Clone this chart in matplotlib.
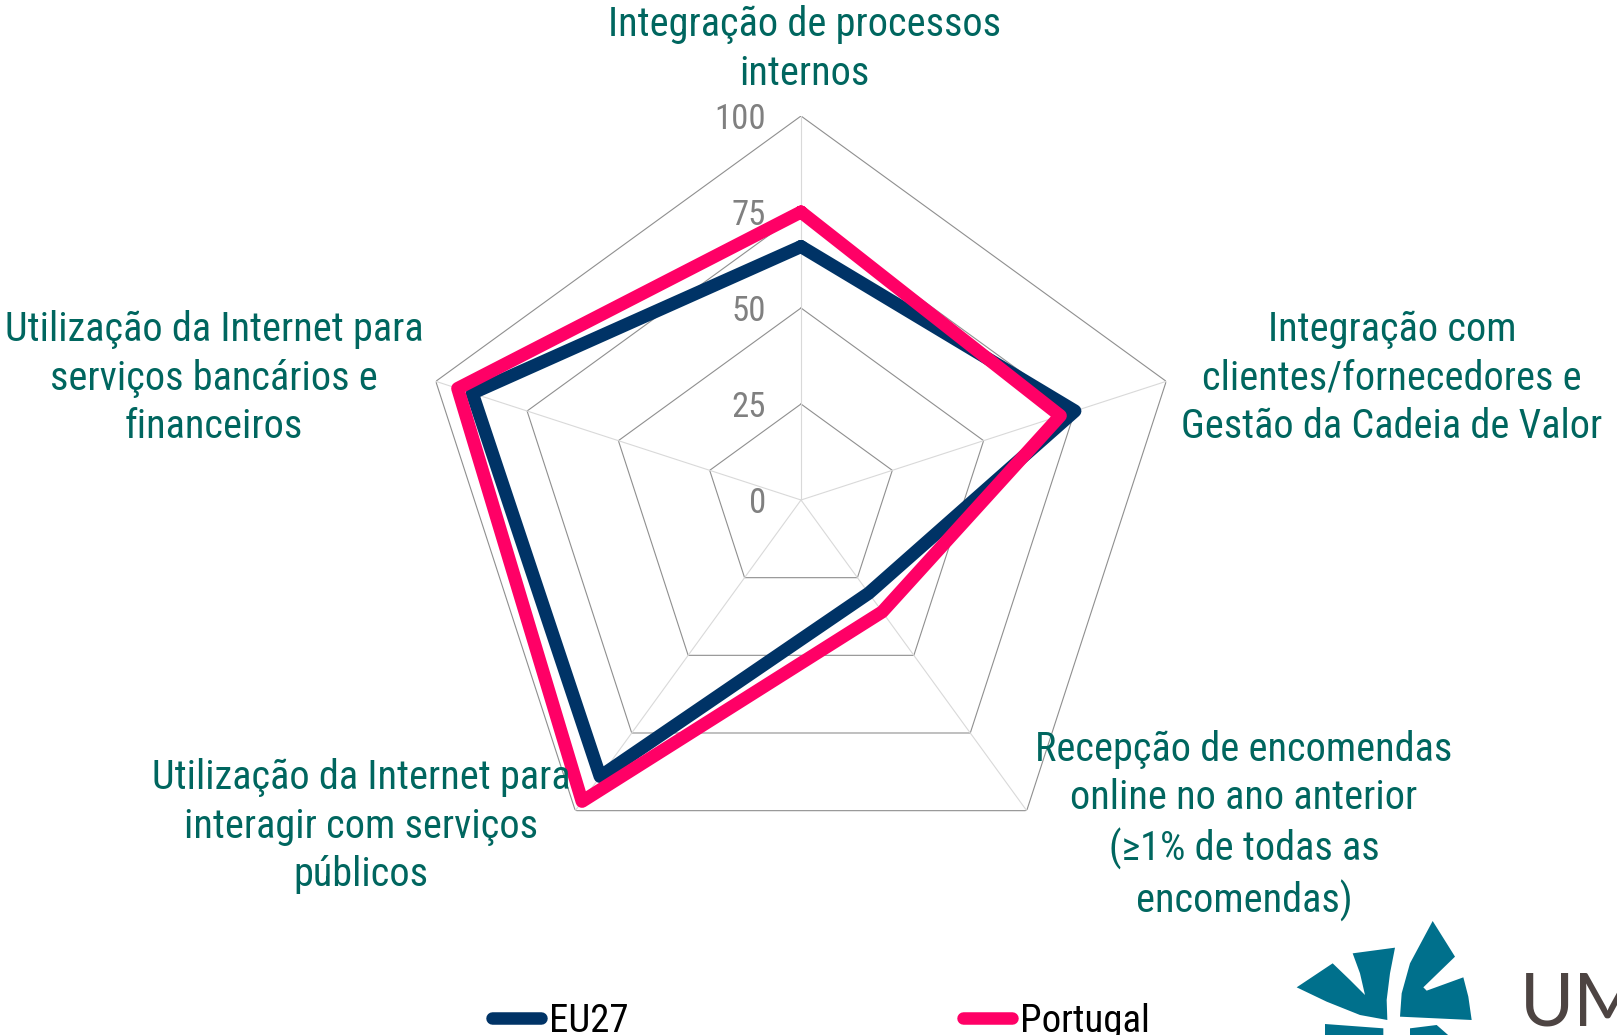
import numpy as np
import matplotlib
matplotlib.use("Agg")
import matplotlib.pyplot as plt
from matplotlib import font_manager
from matplotlib.patches import Polygon

# Data (percent of enterprises)
categories = [
    "Integração de processos\ninternos",
    "Integração com\nclientes/fornecedores e\nGestão da Cadeia de Valor",
    "Recepção de encomendas\nonline no ano anterior\n(≥1% de todas as\nencomendas)",
    "Utilização da Internet para\ninteragir com serviços\npúblicos",
    "Utilização da Internet para\nserviços bancários e\nfinanceiros",
]
series_names = ["EU27", "Portugal"]
eu27 = [66, 75, 30, 89, 90]
portugal = [75, 71, 36, 97, 94]
ring_values = [0, 25, 50, 75, 100]

# pick a narrow font if one is installed
installed = {f.name for f in font_manager.fontManager.ttflist}
font = "DejaVu Sans"
for cand in ["Liberation Sans Narrow", "Nimbus Sans Narrow", "Arial Narrow",
             "Roboto Condensed", "Archivo Narrow", "Asap Condensed", "Liberation Sans"]:
    if cand in installed:
        font = cand
        break
plt.rcParams["font.family"] = [font, "DejaVu Sans"]

W, H = 1617, 1035
fig = plt.figure(figsize=(W / 100, H / 100), dpi=100)
fig.patch.set_facecolor("white")

# polar axes centred where the chart sits in the reference
cx, cy, R = 801, 500, 384
ax = fig.add_axes([(cx - R) / W, (H - cy - R) / H, 2 * R / W, 2 * R / H], projection="polar")
ax.set_theta_offset(np.pi / 2)
ax.set_theta_direction(-1)
ax.set_ylim(0, 100)
ax.grid(False)
ax.spines["polar"].set_visible(False)
ax.set_xticks([])
ax.set_yticks([])
ax.patch.set_alpha(0)

angles = np.linspace(0, 2 * np.pi, len(categories), endpoint=False)
closed = np.append(angles, angles[0])

# pentagon gridlines and spokes
for r in ring_values[1:]:
    ax.plot(closed, [r] * len(closed), color="#8f8f8f", lw=0.8, zorder=1)
for a in angles:
    ax.plot([a, a], [0, 100], color="#d9d9d9", lw=0.8, zorder=1)

for r in ring_values:
    ax.annotate(str(r), xy=(0, r), xytext=(-25, 0), textcoords="offset points",
                ha="right", va="center_baseline", fontsize=25, color="#808080")

# series
ax.plot(closed, eu27 + eu27[:1], color="#003366", lw=9.4, solid_joinstyle="round",
        solid_capstyle="round", clip_on=False, zorder=3, label=series_names[0])
ax.plot(closed, portugal + portugal[:1], color="#FF0066", lw=9.4, solid_joinstyle="round",
        solid_capstyle="round", clip_on=False, zorder=4, label=series_names[1])

# category labels (pixel positions from the reference)
label_pos = [(804, 49), (1392, 378), (1244, 826), (361, 826), (214, 378)]
for text, (px, py) in zip(categories, label_pos):
    fig.text(px / W, 1 - py / H, text, ha="center", va="center", multialignment="center",
             fontsize=29, color="#00665F", linespacing=1.31)

# legend at the bottom
leg = fig.legend(loc="center left", bbox_to_anchor=(492 / W, 1 - 1021 / H), ncol=2,
                 frameon=False, fontsize=28, borderpad=0, borderaxespad=0,
                 handlelength=1.25, handletextpad=0.22, columnspacing=8.6)
for line in leg.get_lines():
    line.set_linewidth(9)
    line.set_solid_capstyle("round")

# partial university logo in the bottom-right corner
def to_fig(pts):
    return [((1250 + x / 3) / W, 1 - (900 + y / 3) / H) for x, y in pts]

logo_teal = "#00708C"
blades = [
    [(140, 262), (248, 190), (300, 240), (345, 285), (330, 220), (308, 160), (435, 143),
     (420, 220), (410, 300), (412, 360), (330, 345), (230, 305)],
    [(548, 63), (615, 170), (520, 262), (530, 272), (640, 232), (655, 290), (665, 360),
     (450, 350), (455, 280), (480, 190)],
    [(225, 372), (400, 385), (400, 410), (225, 410)],
    [(480, 385), (560, 375), (600, 410), (480, 410)],
]
for b in blades:
    fig.patches.append(Polygon(to_fig(b), closed=True, transform=fig.transFigure,
                               facecolor=logo_teal, edgecolor="none"))
fig.text(1520 / W, 1 - 1026 / H, "UM", fontsize=53, color="#4D4442",
         ha="left", va="baseline", family=["Lato", "DejaVu Sans"])

fig.savefig("out.png", dpi=100, facecolor="white")
